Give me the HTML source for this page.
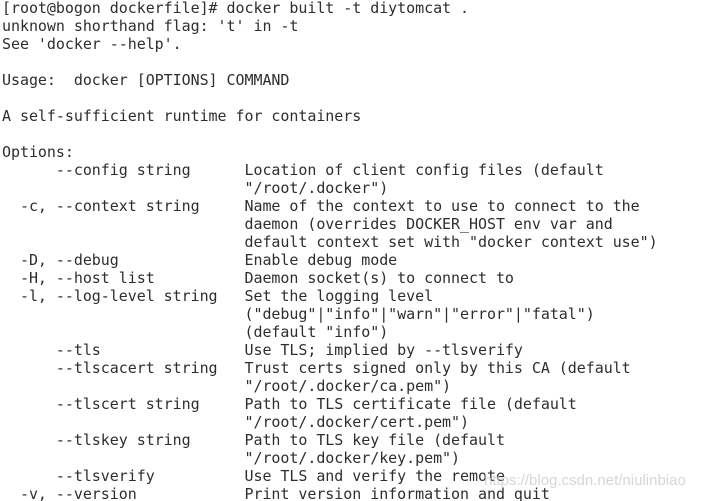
<!DOCTYPE html>
<html><head><style>
html,body{margin:0;padding:0;background:#fff;width:708px;height:501px;overflow:hidden;position:relative}
pre{position:absolute;left:2px;top:-1px;margin:0;font-family:"DejaVu Sans Mono","Liberation Mono",monospace;font-size:15px;letter-spacing:-0.05px;line-height:18px;color:#2e2e2e}
.wm{position:absolute;left:484px;top:472px;font-family:"Liberation Sans",sans-serif;font-size:15px;color:rgba(200,200,200,0.75)}
</style></head><body>
<pre>[root@bogon dockerfile]# docker built -t diytomcat .
unknown shorthand flag: 't' in -t
See 'docker --help'.

Usage:  docker [OPTIONS] COMMAND

A self-sufficient runtime for containers

Options:
      --config string      Location of client config files (default
                           "/root/.docker")
  -c, --context string     Name of the context to use to connect to the
                           daemon (overrides DOCKER_HOST env var and
                           default context set with "docker context use")
  -D, --debug              Enable debug mode
  -H, --host list          Daemon socket(s) to connect to
  -l, --log-level string   Set the logging level
                           ("debug"|"info"|"warn"|"error"|"fatal")
                           (default "info")
      --tls                Use TLS; implied by --tlsverify
      --tlscacert string   Trust certs signed only by this CA (default
                           "/root/.docker/ca.pem")
      --tlscert string     Path to TLS certificate file (default
                           "/root/.docker/cert.pem")
      --tlskey string      Path to TLS key file (default
                           "/root/.docker/key.pem")
      --tlsverify          Use TLS and verify the remote
  -v, --version            Print version information and quit</pre>
<div class="wm">https://blog.csdn.net/niulinbiao</div>
</body></html>
